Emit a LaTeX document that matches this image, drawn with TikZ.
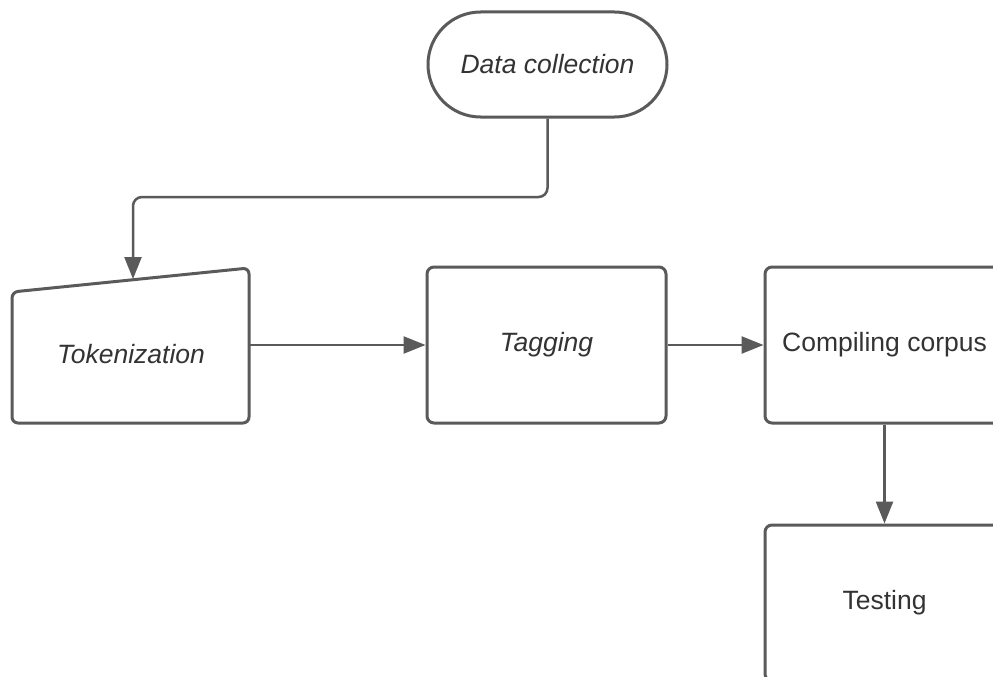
\documentclass[tikz,border=0pt]{standalone}
\usepackage{fontspec}
\setmainfont{Liberation Sans}
\usetikzlibrary{arrows.meta,shapes.misc}
\definecolor{ln}{HTML}{5A5A5A}
\definecolor{tx}{HTML}{333333}
\begin{document}
\begin{tikzpicture}[x=1pt,y=-1pt,
  box/.style={draw=ln,line width=3pt,rounded corners=7pt,fill=white,
    minimum width=239pt,minimum height=156pt,inner sep=0pt,text=tx,
    font=\fontsize{26.5}{30}\selectfont},
  term/.style={draw=ln,line width=3pt,rounded rectangle,fill=white,
    minimum width=239pt,minimum height=105pt,inner sep=0pt,text=tx,
    font=\fontsize{26.5}{30}\selectfont\itshape},
  lbl/.style={inner sep=0pt,text=tx,font=\fontsize{26.5}{30}\selectfont\itshape},
  conn/.style={draw=ln,line width=2.5pt,
    -{Triangle[length=22pt,width=17pt]}}]
\useasboundingbox (0,0) rectangle (993,677);
\clip (0,0) rectangle (993,677);
\fill[white] (0,0) rectangle (993,677);
% nodes
\node[term] (data) at (547.5,64.5) {Data collection};
\draw[draw=ln,line width=3pt,rounded corners=6pt,fill=white]
  (12,292) -- (249,268) -- (249,423) -- (12,423) -- cycle;
\node[lbl] (tok) at (131,354) {Tokenization};
\coordinate (tokR) at (249,345);
\coordinate (tokT) at (133,279);
\node[box,font=\fontsize{26.5}{30}\selectfont\itshape] (tag) at (546.5,345) {Tagging};
\node[box] (comp) at (884.5,345) {Compiling corpus};
\node[box] (test) at (884.5,603) {Testing};
% connectors
\draw[conn,rounded corners=9pt] (data.south) -- (547.5,197) -| (tokT);
\draw[conn] (tokR) -- (tag.west);
\draw[conn] (tag.east) -- (comp.west);
\draw[conn] (comp.south) -- (test.north);
\end{tikzpicture}
\end{document}
